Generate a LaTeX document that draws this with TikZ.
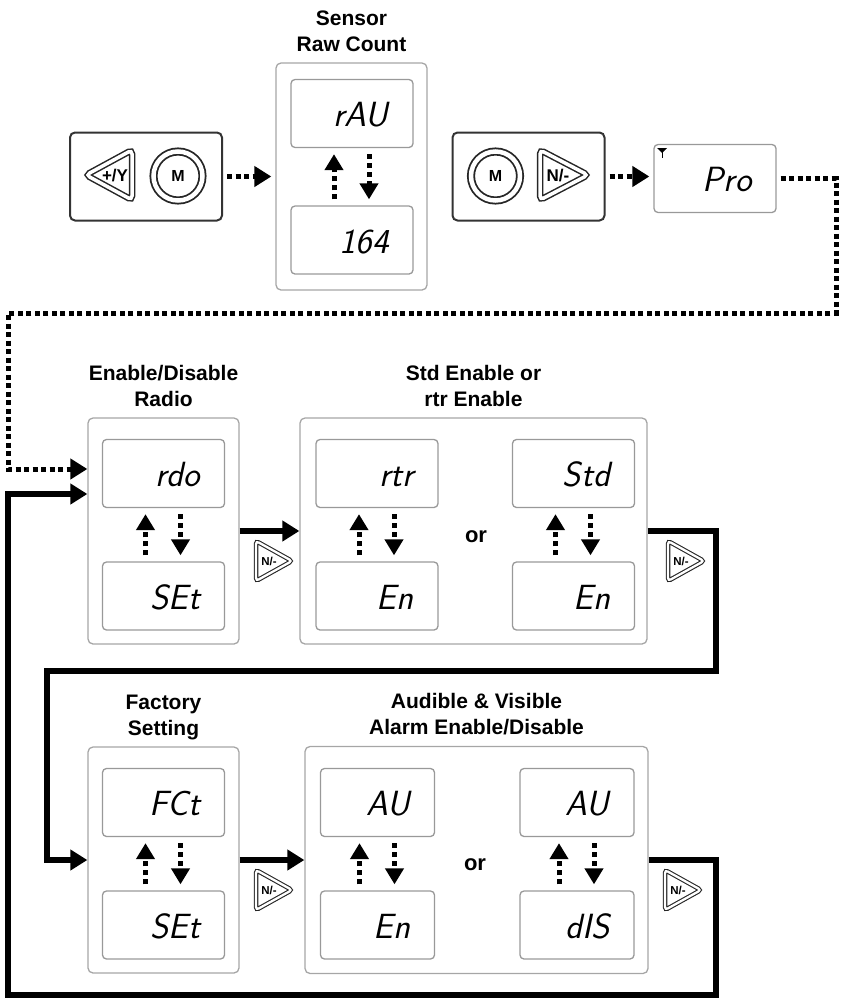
\documentclass[tikz,border=0pt]{standalone}
\usepackage{fontspec}
\setmainfont{Liberation Sans}
\usetikzlibrary{arrows.meta}

\begin{document}
\begin{tikzpicture}[x=1pt,y=-1pt,
    panel/.style={draw=gray!70,line width=1.3pt,rounded corners=5pt,inner sep=0pt},
    keypad/.style={draw=black!80,line width=2pt,rounded corners=5pt,minimum width=152pt,minimum height=88pt},
    lcd/.style={draw=gray!80,line width=1.3pt,rounded corners=4pt,minimum width=122pt,minimum height=68pt},
    seg/.style={font=\sffamily\slshape\fontsize{35}{35}\selectfont,anchor=base east,xshift=-25pt,yshift=-13pt,inner sep=0pt},
    ttl/.style={font=\bfseries\fontsize{21}{26}\selectfont,align=center,anchor=south,text depth=0pt,inner sep=0pt,yshift=11pt},
    ortxt/.style={font=\bfseries\fontsize{22}{22}\selectfont},
    dotline/.style={line width=5pt,dash pattern=on 5pt off 3.5pt},
    flowline/.style={line width=6pt},
    arr/.style={-{Triangle[length=17pt,width=20pt]}},
    smallarr/.style={line width=5pt,dash pattern=on 5pt off 4pt,-{Triangle[length=16pt,width=18pt]},shorten <=6pt,shorten >=6pt},
    keyline/.style={draw=black!85,line width=1.5pt,double=white,double distance=3.5pt,rounded corners=4pt},
    mkey/.style={circle,draw=black!85,line width=1.8pt,double=white,double distance=4.5pt,minimum size=49pt,inner sep=0pt,font=\bfseries\fontsize{16}{16}\selectfont},
    keytxt/.style={font=\bfseries\fontsize{17}{17}\selectfont,inner sep=0pt},
    nkey/.pic={
      \draw[keyline,line width=1.1pt,double distance=2.3pt,rounded corners=3pt] (0,-20) -- (36,0) -- (0,20) -- cycle;
      \node[font=\bfseries\fontsize{11.5}{11.5}\selectfont,inner sep=0pt] (-txt) at (13,0) {N/-};
    }]
    \useasboundingbox (0,0) rectangle (841,999);

    \node[keypad] (padA) at (146,176.5) {};
    \draw[keyline] (132,150) -- (86,175) -- (132,200) -- cycle;
    \node[keytxt] (plusY) at (115,176) {+/Y};
    \node[mkey] (mA) at (178,176) {M};

    \node[panel,minimum width=151pt,minimum height=227pt] (rawbox) at (351.5,176.5) {};
    \node[ttl] (rawttl) at (rawbox.north) {Sensor\\Raw Count};
    \node[lcd] (rawtop) at (352,113.5) {};
    \node[lcd] (rawbot) at (352,240) {};
    \node[seg] (rawtoptxt) at (rawtop.east) {rAU};
    \node[seg] (rawbottxt) at (rawbot.east) {164};

    \node[keypad] (padB) at (528.5,176.5) {};
    \node[mkey] (mB) at (495.5,176) {M};
    \draw[keyline] (540,150) -- (588,175) -- (540,200) -- cycle;
    \node[keytxt] (nextB) at (558,176) {N/-};

    \node[lcd] (prodisp) at (715,178.5) {};
    \node[seg] (protxt) at (prodisp.east) {Pro};
    \fill (657,148) -- (667,148) -- (662,153) -- cycle;
    \draw[line width=1pt] (662,150) -- (662,158);

    \node[panel,minimum width=151pt,minimum height=226pt] (rdobox) at (163.5,531) {};
    \node[ttl] (rdottl) at (rdobox.north) {Enable/Disable\\Radio};
    \node[lcd] (rdotop) at (163.5,473.5) {};
    \node[lcd] (rdobot) at (163.5,596) {};
    \node[seg] (rdotoptxt) at (rdotop.east) {rdo};
    \node[seg] (rdobottxt) at (rdobot.east) {SEt};

    \node[panel,minimum width=347pt,minimum height=226pt] (stdbox) at (473.5,531) {};
    \node[ttl] (stdttl) at (stdbox.north) {Std Enable or\\rtr Enable};
    \node[lcd] (rtrtop) at (377,473.5) {};
    \node[lcd] (rtrbot) at (377,596) {};
    \node[lcd] (stdtop) at (573.5,473.5) {};
    \node[lcd] (stdbot) at (573.5,596) {};
    \node[seg] (rtrtoptxt) at (rtrtop.east) {rtr};
    \node[seg] (rtrbottxt) at (rtrbot.east) {En};
    \node[seg] (stdtoptxt) at (stdtop.east) {Std};
    \node[seg] (stdbottxt) at (stdbot.east) {En};
    \node[ortxt] (or1) at (476,537) {or};

    \node[panel,minimum width=151pt,minimum height=226pt] (facbox) at (163.5,860) {};
    \node[ttl] (facttl) at (facbox.north) {Factory\\Setting};
    \node[lcd] (fcttop) at (163.5,802.5) {};
    \node[lcd] (fctbot) at (163.5,925) {};
    \node[seg] (fcttoptxt) at (fcttop.east) {FCt};
    \node[seg] (fctbottxt) at (fctbot.east) {SEt};

    \node[panel,minimum width=343pt,minimum height=227pt] (audbox) at (476.5,860) {};
    \node[ttl] (audttl) at (audbox.north) {Audible \& Visible\\Alarm Enable/Disable};
    \node[lcd,minimum width=114pt] (autop) at (377.5,802.5) {};
    \node[lcd,minimum width=114pt] (aubot) at (377.5,925) {};
    \node[lcd,minimum width=114pt] (avtop) at (577,802.5) {};
    \node[lcd,minimum width=114pt] (avbot) at (577,925) {};
    \node[seg] (autoptxt) at (autop.east) {AU};
    \node[seg] (aubottxt) at (aubot.east) {En};
    \node[seg] (avtoptxt) at (avtop.east) {AU};
    \node[seg] (avbottxt) at (avbot.east) {dIS};
    \node[ortxt] (or2) at (475,865) {or};

    \foreach \u/\d in {rawtop/rawbot,rdotop/rdobot,rtrtop/rtrbot,stdtop/stdbot,fcttop/fctbot,autop/aubot,avtop/avbot}{
      \draw[smallarr] ([xshift=-18pt]\d.north) -- ([xshift=-18pt]\u.south);
      \draw[smallarr] ([xshift=17pt]\u.south) -- ([xshift=17pt]\d.north);
    }

    \draw[dotline,arr,shorten <=4pt,shorten >=4pt] (padA.east) -- (padA.east -| rawbox.west);
    \draw[dotline,arr,shorten <=4pt,shorten >=4pt] (padB.east) -- (padB.east -| prodisp.west);
    \coordinate (ne) at (836,313);
    \coordinate (nw) at (8,313);
    \coordinate (dotin) at ([yshift=62pt]rdobox.west);
    \draw[dotline,arr,shorten <=4pt] (prodisp.east) -| (ne) -- (nw) |- (dotin);

    \draw[flowline,arr] (rdobox.east) -- (stdbox.west);
    \coordinate (turnA) at (716,671);
    \coordinate (turnB) at (47,671);
    \draw[flowline,arr] (stdbox.east) -| (turnA) -- (turnB) |- (facbox.west);
    \draw[flowline,arr] (facbox.east) -- (audbox.west);
    \coordinate (turnC) at (716,995);
    \coordinate (turnD) at (8,995);
    \coordinate (solidin) at ([yshift=37pt]rdobox.west);
    \draw[flowline,arr] (audbox.east) -| (turnC) -- (turnD) |- (solidin);

    \pic (nk1) at (256,561) {nkey};
    \pic (nk2) at (668,561) {nkey};
    \pic (nk3) at (256,890) {nkey};
    \pic (nk4) at (665,890) {nkey};
\end{tikzpicture}
\end{document}
